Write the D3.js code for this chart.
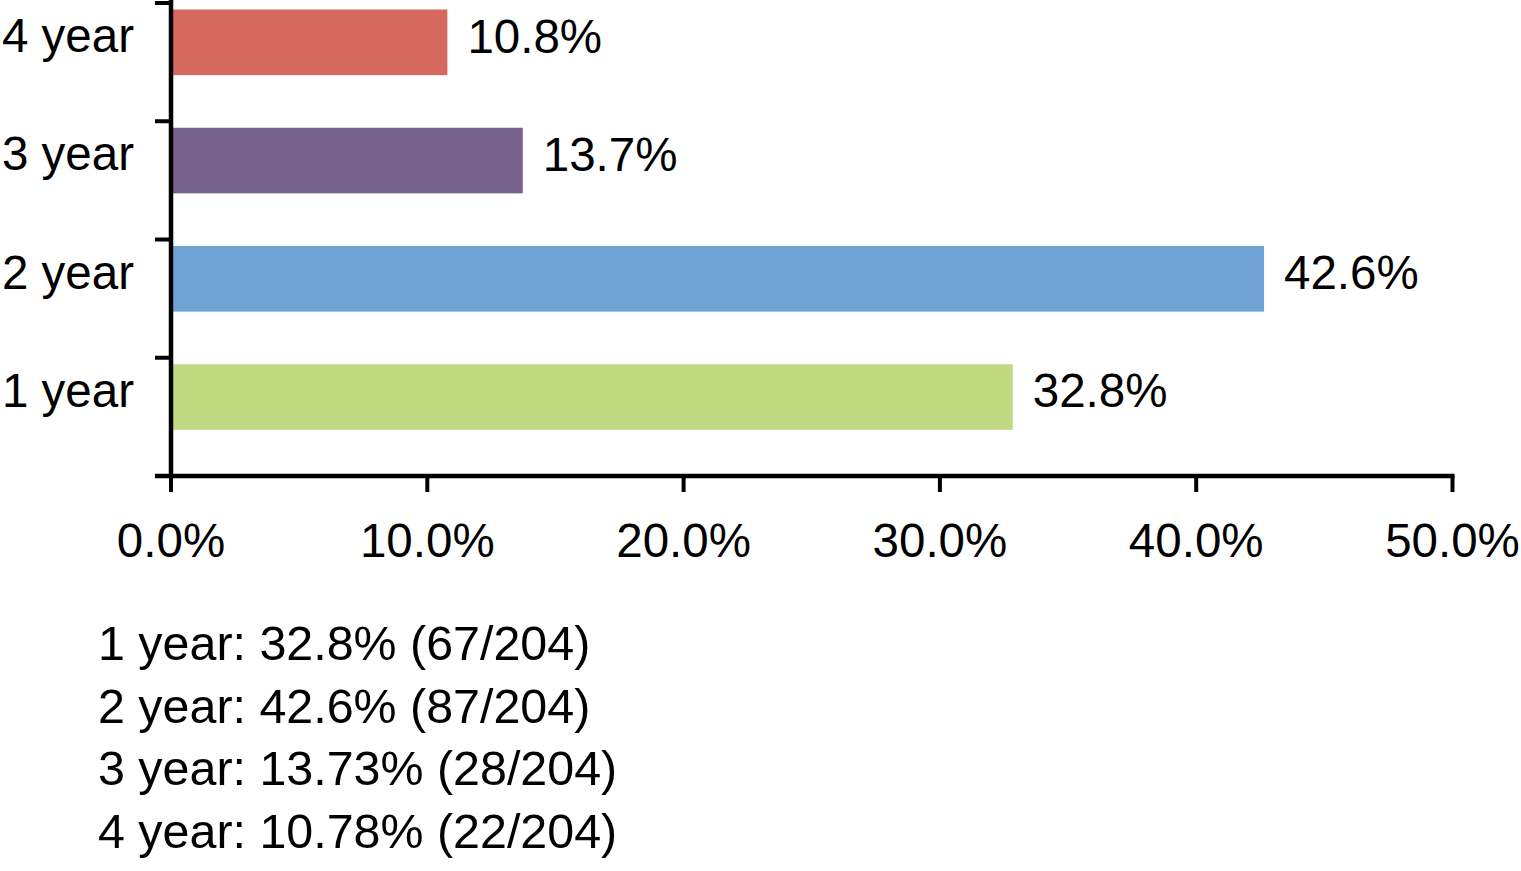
<!DOCTYPE html>
<html>
<head>
<meta charset="utf-8">
<script src="https://cdn.jsdelivr.net/npm/d3@7"></script>
<style>
  html, body { margin: 0; padding: 0; background: #fff; }
  svg { display: block; }
  text { font-family: "Liberation Sans", Arial, Helvetica, sans-serif; fill: #000; }
</style>
</head>
<body>
<svg id="chart" width="1521" height="871"></svg>
<script>
// ---- data ----
const categories = ["4 year", "3 year", "2 year", "1 year"];
const counts = [22, 28, 87, 67];
const total = 204;
const colors = ["#D6685F", "#78628E", "#6FA3D5", "#C1DA82"];
const xTicks = [0, 0.1, 0.2, 0.3, 0.4, 0.5];
const noteCategories = ["1 year", "2 year", "3 year", "4 year"];
const notePercents = ["32.8%", "42.6%", "13.73%", "10.78%"];
const noteCounts = [67, 87, 28, 22];

const rows = categories.map((c, i) => ({ cat: c, n: counts[i], v: counts[i] / total, color: colors[i] }));

const svg = d3.select("#chart");

const x = d3.scaleLinear().domain([0, 0.5]).range([171, 1452.5]);
const y = d3.scaleBand().domain(categories).range([3, 476]).padding(0);
const bw = y.bandwidth();
const fs = 47.5;

// bars
svg.append("g").selectAll("rect").data(rows).join("rect")
  .attr("x", x(0) + 2)
  .attr("y", d => y(d.cat) + bw * 0.055)
  .attr("width", d => x(d.v) - x(0) - 2)
  .attr("height", bw * 0.555)
  .attr("fill", d => d.color);

// value labels
svg.append("g").selectAll("text").data(rows).join("text")
  .attr("x", d => x(d.v) + 20)
  .attr("y", d => y(d.cat) + 49.5)
  .attr("font-size", fs)
  .text(d => d3.format(".1%")(d.v));

// y axis
const yAxis = svg.append("g");
yAxis.append("line")
  .attr("x1", x(0)).attr("x2", x(0))
  .attr("y1", 0).attr("y2", 478)
  .attr("stroke", "#000").attr("stroke-width", 4.5);
const yBoundaries = categories.map(c => y(c)).concat([y.range()[1]]);
yAxis.selectAll("line.tick").data(yBoundaries).join("line")
  .attr("class", "tick")
  .attr("x1", x(0) - 16).attr("x2", x(0))
  .attr("y1", d => d).attr("y2", d => d)
  .attr("stroke", "#000").attr("stroke-width", 4);
yAxis.selectAll("text").data(categories).join("text")
  .attr("x", 134)
  .attr("y", d => y(d) + 49)
  .attr("text-anchor", "end")
  .attr("font-size", fs)
  .text(d => d);

// x axis
const xAxis = svg.append("g");
xAxis.append("line")
  .attr("x1", x(0) - 16).attr("x2", x(0.5) + 2)
  .attr("y1", 476).attr("y2", 476)
  .attr("stroke", "#000").attr("stroke-width", 4.5);
xAxis.selectAll("line.tick").data(xTicks).join("line")
  .attr("class", "tick")
  .attr("x1", d => x(d)).attr("x2", d => x(d))
  .attr("y1", 476).attr("y2", 492)
  .attr("stroke", "#000").attr("stroke-width", 4);
xAxis.selectAll("text").data(xTicks).join("text")
  .attr("x", d => x(d))
  .attr("y", 557)
  .attr("text-anchor", "middle")
  .attr("font-size", fs)
  .text(d => d3.format(".1%")(d));

// notes below
svg.append("g").selectAll("text").data(noteCategories).join("text")
  .attr("x", 98)
  .attr("y", (d, i) => 660 + i * 62.7)
  .attr("font-size", 48.4)
  .text((d, i) => `${d}: ${notePercents[i]} (${noteCounts[i]}/${total})`);
</script>
</body>
</html>
